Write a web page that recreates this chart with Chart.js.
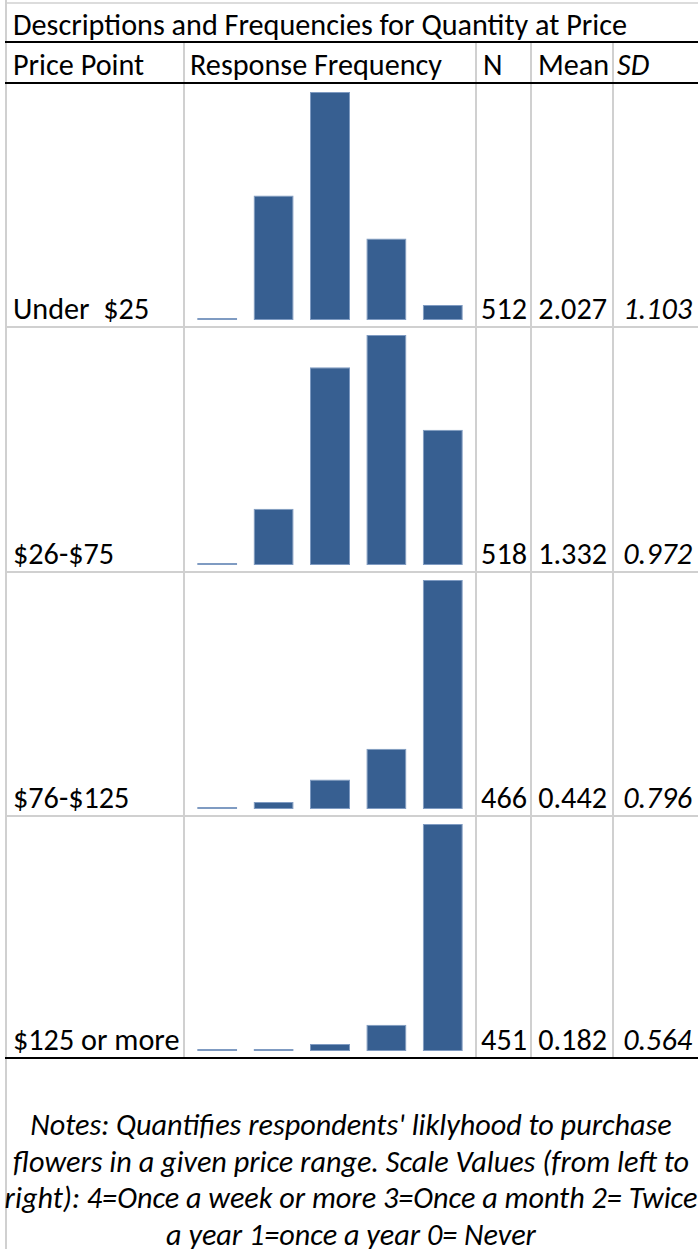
<!DOCTYPE html>
<html>
<head>
<meta charset="utf-8">
<title>Descriptions and Frequencies for Quantity at Price</title>
<script src="https://cdn.jsdelivr.net/npm/chart.js@4/dist/chart.umd.min.js"></script>
<style>
  html, body { margin: 0; padding: 0; background: #fff; }
  #sheet {
    position: relative; width: 698px; height: 1249px; overflow: hidden;
    background: #fff; color: #000;
    font-family: Carlito, Calibri, Lato, sans-serif;
  }
  .t { position: absolute; white-space: pre; line-height: normal; }
  .line { position: absolute; }
  .chartBox { position: absolute; }
</style>
</head>
<body>
<div id="sheet"></div>
<script>
// ---- table content ----
const title = 'Descriptions and Frequencies for Quantity at Price';
const headers = ['Price Point', 'Response Frequency', 'N', 'Mean', 'SD'];
const priceLabels = ['Under  $25', '$26-$75', '$76-$125', '$125 or more'];
// response scale, left to right
const scaleValues = ['4', '3', '2', '1', '0'];
// response counts per price point, in scale order 4,3,2,1,0
const freqUnder25 = [1, 142, 260, 93, 17];
const freq26to75 = [1, 47, 165, 192, 113];
const freq76to125 = [1, 10, 42, 86, 327];
const freq125plus = [1, 2, 12, 45, 391];
const nValues = ['512', '518', '466', '451'];
const meanValues = ['2.027', '1.332', '0.442', '0.182'];
const sdValues = ['1.103', '0.972', '0.796', '0.564'];
const noteLines = [
  "Notes: Quantifies respondents' liklyhood to purchase",
  'flowers in a given price range. Scale Values (from left to',
  'right): 4=Once a week or more 3=Once a month 2= Twice',
  'a year 1=once a year 0= Never'
];

// ---- layout ----
const sheet = document.getElementById('sheet');
const FAMILY = getComputedStyle(sheet).fontFamily;
const rowTops = [84, 327, 572, 816];
const rowBottoms = [327, 572, 816, 1058];
const colLines = [183, 475, 530, 612];

// size the font so the title spans its row like the spreadsheet's
const probe = document.createElement('canvas').getContext('2d');
probe.font = '100px ' + FAMILY;
const FS = Math.round(100 * 614 / probe.measureText(title).width * 10) / 10;

function ascentFor(style) {
  probe.font = style + ' ' + FS + 'px ' + FAMILY;
  return probe.measureText('Hg').fontBoundingBoxAscent;
}
const ASC = ascentFor('normal');
const ASC_I = ascentFor('italic');

// place text by its baseline; align = 'left' | 'right' | 'center'
function text(str, x, baseline, align, italic) {
  const d = document.createElement('div');
  d.className = 't';
  d.textContent = str;
  d.style.fontSize = FS + 'px';
  if (italic) d.style.fontStyle = 'italic';
  d.style.top = (baseline - (italic ? ASC_I : ASC)) + 'px';
  if (align === 'right') { d.style.right = (698 - x) + 'px'; }
  else if (align === 'center') { d.style.left = x + 'px'; d.style.transform = 'translateX(-50%)'; }
  else { d.style.left = x + 'px'; }
  sheet.appendChild(d);
}

function rule(x, y, w, h, color) {
  const d = document.createElement('div');
  d.className = 'line';
  Object.assign(d.style, { left: x + 'px', top: y + 'px', width: w + 'px', height: h + 'px', background: color });
  sheet.appendChild(d);
}

// grid lines
const GRID = '#d0d0d0';
rule(5, 2, 693, 2, '#dcdcdc');
rule(5, 0, 2, 1249, GRID);
colLines.forEach(x => rule(x, 43, 2, 1015, GRID));
[326, 571, 815].forEach(y => rule(5, y, 693, 2, GRID));
rule(5, 41, 693, 2, '#000');
rule(5, 82, 693, 2, '#000');
rule(5, 1057, 693, 2, '#000');

// title and header row
text(title, 13, 35, 'left');
text(headers[0], 13, 75, 'left');
text(headers[1], 190, 75, 'left');
text(headers[2], 483, 75, 'left');
text(headers[3], 538, 75, 'left');
text(headers[4], 617, 75, 'left', true);

// body rows
priceLabels.forEach((lab, i) => {
  const b = rowBottoms[i] - 8;
  text(lab, 13, b, 'left');
  text(nValues[i], 527, b, 'right');
  text(meanValues[i], 607, b, 'right');
  text(sdValues[i], 692, b, 'right', true);
});

// notes, centred in the merged cell below the table
noteLines.forEach((ln, i) => text(ln, 351, 1135 + i * 36.5, 'center', true));

// ---- frequency charts, one per price point ----
const series = [freqUnder25, freq26to75, freq76to125, freq125plus];
series.forEach((vals, i) => {
  const box = document.createElement('div');
  box.className = 'chartBox';
  Object.assign(box.style, {
    left: '184px', top: rowTops[i] + 'px', width: '291px',
    height: (rowBottoms[i] - rowTops[i]) + 'px'
  });
  const cv = document.createElement('canvas');
  box.appendChild(cv);
  sheet.appendChild(box);
  new Chart(cv, {
    type: 'bar',
    data: {
      labels: scaleValues,
      datasets: [{
        label: priceLabels[i],
        data: vals,
        backgroundColor: '#375F91',
        borderColor: '#7F9BC2',
        borderWidth: 1,
        borderSkipped: false,
        minBarLength: 2,
        barPercentage: 0.71,
        categoryPercentage: 1
      }]
    },
    options: {
      responsive: true,
      maintainAspectRatio: false,
      animation: false,
      events: [],
      layout: { padding: { top: 8, bottom: 7, left: 5, right: 4 } },
      plugins: { legend: { display: false }, tooltip: { enabled: false } },
      scales: {
        x: { display: false },
        y: { display: false, min: 0, max: Math.max(...vals) }
      }
    }
  });
});
</script>
</body>
</html>
